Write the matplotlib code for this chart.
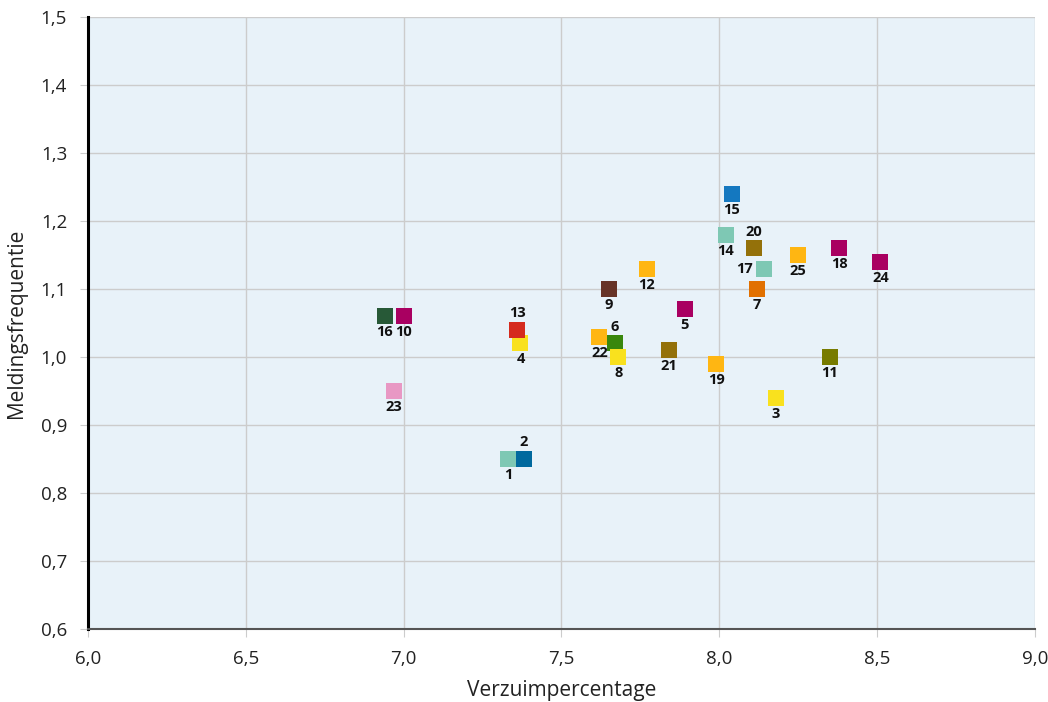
import matplotlib
matplotlib.use("Agg")
import matplotlib.pyplot as plt

plt.rcParams['font.family'] = ['Open Sans', 'DejaVu Sans']

labels = [str(i) for i in range(1, 26)]
verzuim = [7.33, 7.38, 8.18, 7.37, 7.89, 7.67, 8.12, 7.68, 7.65, 7.00,
           8.35, 7.77, 7.36, 8.02, 8.04, 6.94, 8.14, 8.38, 7.99, 8.11,
           7.84, 7.62, 6.97, 8.51, 8.25]
melding = [0.85, 0.85, 0.94, 1.02, 1.07, 1.02, 1.10, 1.00, 1.10, 1.06,
           1.00, 1.13, 1.04, 1.18, 1.24, 1.06, 1.13, 1.16, 0.99, 1.16,
           1.01, 1.03, 0.95, 1.14, 1.15]
colors = ['#7ec8b4', '#00699e', '#f9e11e', '#f9e11e', '#a90061', '#39870c',
          '#e17000', '#f9e11e', '#673327', '#a90061', '#777b00', '#ffb612',
          '#d52b1e', '#7ec8b4', '#1478c0', '#275937', '#7ec8b4', '#a90061',
          '#ffb612', '#94710a', '#94710a', '#ffb612', '#e898c4', '#a90061',
          '#ffb612']
# label placement: 'b' below, 'a' above, 'l' left
placement = ['b', 'a', 'b', 'b', 'b', 'a', 'b', 'b', 'b', 'b',
             'b', 'b', 'a', 'b', 'b', 'b', 'l', 'b', 'b', 'a',
             'b', 'b', 'b', 'b', 'b']

xticks = [6.0, 6.5, 7.0, 7.5, 8.0, 8.5, 9.0]
xticklabels = ['6,0', '6,5', '7,0', '7,5', '8,0', '8,5', '9,0']
yticks = [0.6, 0.7, 0.8, 0.9, 1.0, 1.1, 1.2, 1.3, 1.4, 1.5]
yticklabels = ['0,6', '0,7', '0,8', '0,9', '1,0', '1,1', '1,2', '1,3', '1,4', '1,5']

fig = plt.figure(figsize=(10.48, 7.02), dpi=100)
ax = fig.add_axes([88/1048, 1 - 629/702, (1035 - 88)/1048, (629 - 17)/702])
ax.set_facecolor('#e8f2f9')

for x, y, c in zip(verzuim, melding, colors):
    ax.plot([x], [y], marker='s', markersize=11.5, color=c, linestyle='none',
            markeredgewidth=0, zorder=3)

offsets = {'b': (0, -11.5, 'center', 'center'),
           'a': (0, 12, 'center', 'center'),
           'l': (-13.5, 0, 'center', 'center')}
for x, y, t, p in zip(verzuim, melding, labels, placement):
    dx, dy, ha, va = offsets[p]
    ax.annotate(t, (x, y), xytext=(dx, dy), textcoords='offset points',
                ha=ha, va=va, fontsize=10.5, fontweight='bold', color='#111111',
                zorder=4)

ax.set_xlim(6.0, 9.0)
ax.set_ylim(0.6, 1.5)
ax.set_xticks(xticks)
ax.set_xticklabels(xticklabels)
ax.set_yticks(yticks)
ax.set_yticklabels(yticklabels)
ax.grid(True, color='#cccccc', linewidth=1)
ax.set_axisbelow(True)
ax.tick_params(axis='both', length=6, color='#cccccc', labelsize=13.5,
               labelcolor='#222222')
ax.tick_params(axis='x', pad=9)
ax.tick_params(axis='y', pad=9)

for s in ['top', 'right']:
    ax.spines[s].set_visible(False)
ax.spines['left'].set_color('black')
ax.spines['left'].set_linewidth(2.2)
ax.spines['bottom'].set_color('#555555')
ax.spines['bottom'].set_linewidth(1.5)

ax.set_xlabel('Verzuimpercentage', fontsize=15, color='#222222', labelpad=9)
ax.set_ylabel('Meldingsfrequentie', fontsize=15, color='#222222', labelpad=10)

fig.savefig('out.png', dpi=100)
